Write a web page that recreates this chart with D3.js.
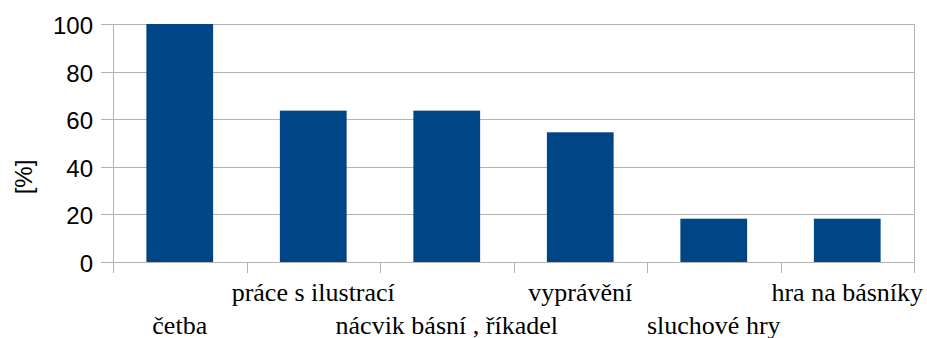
<!DOCTYPE html>
<html>
<head>
<meta charset="utf-8">
<script src="https://cdn.jsdelivr.net/npm/d3@7"></script>
<style>
  html, body { margin: 0; padding: 0; background: #fff; }
  svg { display: block; }
  .sans { font-family: 'Liberation Sans', Arimo, Arial, sans-serif; }
  .serif { font-family: 'Liberation Serif', Tinos, 'Times New Roman', serif; }
</style>
</head>
<body>
<div id="chart"></div>
<script>
// hodnoty (pravděpodobně n = 11)
var categories = ['četba', 'práce s ilustrací', 'nácvik básní , říkadel', 'vyprávění', 'sluchové hry', 'hra na básníky'];
var values = [100, 63.6, 63.6, 54.5, 18.2, 18.2];
var yTicks = [0, 20, 40, 60, 80, 100];

var W = 927, H = 338;
var m = { t: 24, r: 13, b: 76, l: 113 };
var iw = W - m.l - m.r, ih = H - m.t - m.b;

var svg = d3.select('#chart').append('svg').attr('width', W).attr('height', H);
var g = svg.append('g').attr('transform', 'translate(' + m.l + ',' + m.t + ')');

var x = d3.scaleBand().domain(categories).range([0, iw]).paddingInner(0.5).paddingOuter(0.25);
var xb = d3.scaleBand().domain(categories).range([0, iw]);
var y = d3.scaleLinear().domain([0, 100]).range([ih, 0]);

// mřížka
g.selectAll('.grid').data(yTicks).enter().append('line')
  .attr('x1', -12).attr('x2', iw)
  .attr('y1', function (d) { return Math.round(y(d)) + 0.5; })
  .attr('y2', function (d) { return Math.round(y(d)) + 0.5; })
  .attr('stroke', '#b3b3b3').attr('stroke-width', 1);

// osa y + pravý okraj
g.append('line').attr('x1', 0.5).attr('x2', 0.5).attr('y1', 0).attr('y2', ih + 11)
  .attr('stroke', '#b3b3b3');
g.append('line').attr('x1', iw + 0.5).attr('x2', iw + 0.5).attr('y1', 0).attr('y2', ih + 11)
  .attr('stroke', '#b3b3b3');

// značky kategorií
g.selectAll('.xtick').data(categories.slice(1)).enter().append('line')
  .attr('x1', function (d) { return Math.round(xb(d)) + 0.5; })
  .attr('x2', function (d) { return Math.round(xb(d)) + 0.5; })
  .attr('y1', ih).attr('y2', ih + 11)
  .attr('stroke', '#b3b3b3');

// sloupce
g.selectAll('.bar').data(values).enter().append('rect')
  .attr('x', function (d, i) { return x(categories[i]); })
  .attr('width', x.bandwidth())
  .attr('y', function (d) { return y(d); })
  .attr('height', function (d) { return ih - y(d); })
  .attr('fill', '#004586');

// popisky osy y
g.selectAll('.ylab').data(yTicks).enter().append('text')
  .attr('class', 'sans')
  .attr('x', -20).attr('y', function (d) { return y(d); })
  .attr('dy', '0.42em')
  .attr('text-anchor', 'end')
  .style('font-size', '24px')
  .attr('fill', '#000')
  .text(function (d) { return d; });

// popisky kategorií (střídavě ve dvou řadách)
g.selectAll('.xlab').data(categories).enter().append('text')
  .attr('class', 'serif')
  .attr('x', function (d) { return xb(d) + xb.bandwidth() / 2; })
  .attr('y', function (d, i) { return i % 2 ? ih + 39 : ih + 72; })
  .attr('text-anchor', 'middle')
  .style('font-size', '26px')
  .attr('fill', '#000')
  .text(function (d) { return d; });

svg.append('text')
  .attr('class', 'sans')
  .attr('transform', 'translate(23,177) rotate(-90)')
  .attr('dy', '0.36em')
  .attr('text-anchor', 'middle')
  .style('font-size', '24px')
  .text('[%]');
</script>
</body>
</html>
